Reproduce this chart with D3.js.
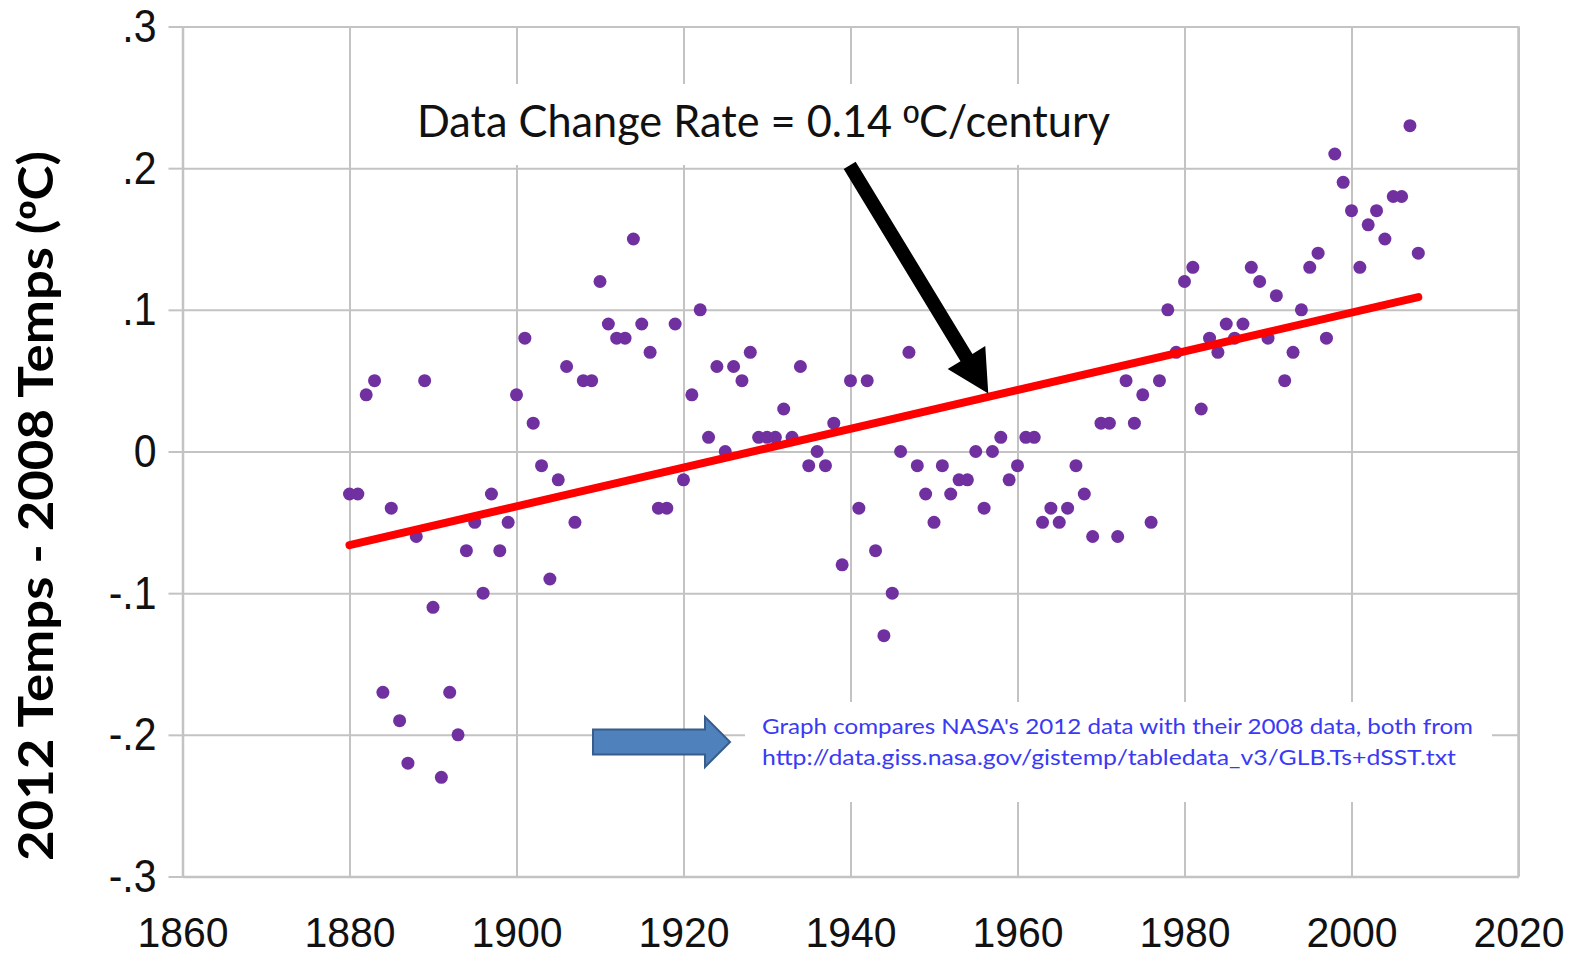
<!DOCTYPE html>
<html><head><meta charset="utf-8">
<script src="https://cdn.jsdelivr.net/npm/d3@7"></script>
<style>html,body{margin:0;padding:0;background:#fff;} svg{display:block;}</style>
</head><body>
<svg id="chart" width="1579" height="957"></svg>
<script>
// ---------- data ----------
const years = [
  1880,1881,1882,1883,1884,1885,1886,1887,1888,1889,
  1890,1891,1892,1893,1894,1895,1896,1897,1898,1899,
  1900,1901,1902,1903,1904,1905,1906,1907,1908,1909,
  1910,1911,1912,1913,1914,1915,1916,1917,1918,1919,
  1920,1921,1922,1923,1924,1925,1926,1927,1928,1929,
  1930,1931,1932,1933,1934,1935,1936,1937,1938,1939,
  1940,1941,1942,1943,1944,1945,1946,1947,1948,1949,
  1950,1951,1952,1953,1954,1955,1956,1957,1958,1959,
  1960,1961,1962,1963,1964,1965,1966,1967,1968,1969,
  1970,1971,1972,1973,1974,1975,1976,1977,1978,1979,
  1980,1981,1982,1983,1984,1985,1986,1987,1988,1989,
  1990,1991,1992,1993,1994,1995,1996,1997,1998,1999,
  2000,2001,2002,2003,2004,2005,2006,2007,2008
];
const diffs = [
  -0.03,-0.03, 0.04, 0.05,-0.17,-0.04,-0.19,-0.22,-0.06, 0.05,
  -0.11,-0.23,-0.17,-0.20,-0.07,-0.05,-0.10,-0.03,-0.07,-0.05,
   0.04, 0.08, 0.02,-0.01,-0.09,-0.02, 0.06,-0.05, 0.05, 0.05,
   0.12, 0.09, 0.08, 0.08, 0.15, 0.09, 0.07,-0.04,-0.04, 0.09,
  -0.02, 0.04, 0.10, 0.01, 0.06, 0.00, 0.06, 0.05, 0.07, 0.01,
   0.01, 0.01, 0.03, 0.01, 0.06,-0.01, 0.00,-0.01, 0.02,-0.08,
   0.05,-0.04, 0.05,-0.07,-0.13,-0.10, 0.00, 0.07,-0.01,-0.03,
  -0.05,-0.01,-0.03,-0.02,-0.02, 0.00,-0.04, 0.00, 0.01,-0.02,
  -0.01, 0.01, 0.01,-0.05,-0.04,-0.05,-0.04,-0.01,-0.03,-0.06,
   0.02, 0.02,-0.06, 0.05, 0.02, 0.04,-0.05, 0.05, 0.10, 0.07,
   0.12, 0.13, 0.03, 0.08, 0.07, 0.09, 0.08, 0.09, 0.13, 0.12,
   0.08, 0.11, 0.05, 0.07, 0.10, 0.13, 0.14, 0.08, 0.21, 0.19,
   0.17, 0.13, 0.16, 0.17, 0.15, 0.18, 0.18, 0.23, 0.14
];
const xTicks = [1860,1880,1900,1920,1940,1960,1980,2000,2020];
const yTicks = [-0.3,-0.2,-0.1,0,0.1,0.2,0.3];
const yTickLabels = ["-.3","-.2","-.1","0",".1",".2",".3"];
const yAxisTitle = "2012 Temps - 2008 Temps (ºC)";
const rateNote = "Data Change Rate = 0.14 ºC/century";
const sourceNote = [
  "Graph compares NASA's 2012 data with their 2008 data, both from",
  "http://data.giss.nasa.gov/gistemp/tabledata_v3/GLB.Ts+dSST.txt"
];
// annotation arrow: tail and tip in data coordinates [year, value]
const arrowTail = [1939.9, 0.202];
const arrowTip  = [1956.5, 0.041];

// ---------- layout ----------
const W = 1579, H = 957;
const m = {left: 182.5, right: 1518.5, top: 26.5, bottom: 876.5};
const x = d3.scaleLinear().domain([1860, 2020]).range([m.left, m.right]);
const y = d3.scaleLinear().domain([-0.3, 0.3]).range([m.bottom, m.top]);
const gridColor = "#c3c3c3";
const svg = d3.select("#chart");
svg.append("rect").attr("width", W).attr("height", H).attr("fill", "#fff");

// gridlines
const grid = svg.append("g");
grid.append("g").attr("transform", `translate(0,${m.bottom})`)
  .call(d3.axisBottom(x).tickValues(xTicks).tickSize(-(m.bottom - m.top)).tickFormat(""))
  .call(g => g.select(".domain").remove())
  .selectAll("line").attr("stroke", gridColor).attr("stroke-width", 2);
grid.append("g").attr("transform", `translate(${m.left},0)`)
  .call(d3.axisLeft(y).tickValues(yTicks).tickSize(-(m.right - m.left)).tickFormat(""))
  .call(g => g.select(".domain").remove())
  .selectAll("line").attr("stroke", gridColor).attr("stroke-width", 2);

// white annotation boxes (hide gridlines behind text)
svg.append("rect").attr("x", 405).attr("y", 84).attr("width", 715).attr("height", 81).attr("fill", "#fff");
svg.append("rect").attr("x", 745).attr("y", 702).attr("width", 747).attr("height", 100).attr("fill", "#fff");

// y axis (ticks + labels)
const yAx = svg.append("g").attr("transform", `translate(${m.left},0)`)
  .call(d3.axisLeft(y).tickValues(yTicks).tickSize(14).tickSizeOuter(0)
    .tickFormat((d, i) => yTickLabels[i]));
yAx.select(".domain").attr("stroke", gridColor).attr("stroke-width", 2.5);
yAx.selectAll(".tick line").attr("stroke", gridColor).attr("stroke-width", 2);
yAx.selectAll(".tick text")
  .attr("x", -26).attr("dy", "0.33em")
  .attr("transform", "scale(1,1.12)")
  .attr("fill", "#111")
  .style("font-family", "'Liberation Sans', Arial, sans-serif")
  .style("font-size", "41px");

// x axis (labels)
const xScaleY = 1.05;
const xAx = svg.append("g").attr("transform", `translate(0,${m.bottom})`)
  .call(d3.axisBottom(x).tickValues(xTicks).tickSize(0).tickSizeOuter(0).tickFormat(d3.format("d")));
xAx.select(".domain").attr("stroke", gridColor).attr("stroke-width", 2.5);
xAx.selectAll(".tick text")
  .attr("y", 70.5 / xScaleY).attr("dy", 0)
  .attr("transform", `scale(1,${xScaleY})`)
  .attr("fill", "#111")
  .style("font-family", "'Liberation Sans', Arial, sans-serif")
  .style("font-size", "41px");
// right border
svg.append("line").attr("x1", x(2020)).attr("x2", x(2020)).attr("y1", y(0.3)).attr("y2", y(-0.3))
  .attr("stroke", gridColor).attr("stroke-width", 2.5);

// points
svg.append("g").selectAll("circle").data(years).join("circle")
  .attr("cx", d => x(d)).attr("cy", (d, i) => y(diffs[i]))
  .attr("r", 6.5).attr("fill", "#7030a0");

// linear trend line (least squares of data)
const n = years.length;
const mx = d3.mean(years), my = d3.mean(diffs);
let sxy = 0, sxx = 0;
years.forEach((yr, i) => { sxy += (yr - mx) * (diffs[i] - my); sxx += (yr - mx) * (yr - mx); });
const slope = sxy / sxx, icpt = my - slope * mx;
const trendX = [years[0], years[n - 1]];
svg.append("line")
  .attr("x1", x(trendX[0])).attr("y1", y(icpt + slope * trendX[0]))
  .attr("x2", x(trendX[1])).attr("y2", y(icpt + slope * trendX[1]))
  .attr("stroke", "#ff0000").attr("stroke-width", 8).attr("stroke-linecap", "round");

// helper: write text, rendering the ordinal º with a font that draws its underline
function fillWithOrdinal(textSel, str, ordFont) {
  const parts = str.split("º");
  parts.forEach((p, i) => {
    if (i > 0) textSel.append("tspan").style("font-family", ordFont).text("º");
    if (p.length) textSel.append("tspan").text(p);
  });
}

// annotation text
const rateText = svg.append("text").attr("x", 417).attr("y", 137)
  .attr("textLength", 693).attr("lengthAdjust", "spacingAndGlyphs")
  .style("font-family", "Lato, 'Open Sans', sans-serif").style("font-size", "45px")
  .attr("fill", "#111");
fillWithOrdinal(rateText, rateNote, "'Liberation Sans', Arial, sans-serif");

// black arrow polygon
function arrowPoly(x0, y0, x1, y1, shaftW, headL, headW) {
  const dx = x1 - x0, dy = y1 - y0, L = Math.hypot(dx, dy);
  const ux = dx / L, uy = dy / L, px = -uy, py = ux;
  const nx = x1 - ux * headL, ny = y1 - uy * headL;
  const pts = [
    [x0 + px * shaftW / 2, y0 + py * shaftW / 2],
    [nx + px * shaftW / 2, ny + py * shaftW / 2],
    [nx + px * headW / 2, ny + py * headW / 2],
    [x1, y1],
    [nx - px * headW / 2, ny - py * headW / 2],
    [nx - px * shaftW / 2, ny - py * shaftW / 2],
    [x0 - px * shaftW / 2, y0 - py * shaftW / 2]
  ];
  return "M" + pts.map(p => p.join(",")).join("L") + "Z";
}
svg.append("path")
  .attr("d", arrowPoly(x(arrowTail[0]), y(arrowTail[1]), x(arrowTip[0]), y(arrowTip[1]), 14, 42, 44))
  .attr("fill", "#000");

// blue block arrow
svg.append("path")
  .attr("d", arrowPoly(593, 742, 730, 742, 25, 25, 50))
  .attr("fill", "#4f81bd").attr("stroke", "#385d8a").attr("stroke-width", 2);

// source note
const lens = [711, 694];
sourceNote.forEach((t, i) => {
  svg.append("text").attr("x", 762).attr("y", 734 + i * 31)
    .attr("textLength", lens[i]).attr("lengthAdjust", "spacingAndGlyphs")
    .style("font-family", "Lato, 'Open Sans', sans-serif").style("font-size", "22px")
    .attr("fill", "#3a3af5").text(t);
});

// y axis title
const yTitle = svg.append("text")
  .attr("transform", "translate(53,506) rotate(-90)")
  .attr("text-anchor", "middle")
  .attr("textLength", 710).attr("lengthAdjust", "spacingAndGlyphs")
  .style("font-family", "Lato, 'Open Sans', sans-serif").style("font-size", "48px").style("font-weight", "700")
  .attr("fill", "#000");
fillWithOrdinal(yTitle, yAxisTitle, "'Liberation Sans', Arial, sans-serif");
</script>
</body></html>
